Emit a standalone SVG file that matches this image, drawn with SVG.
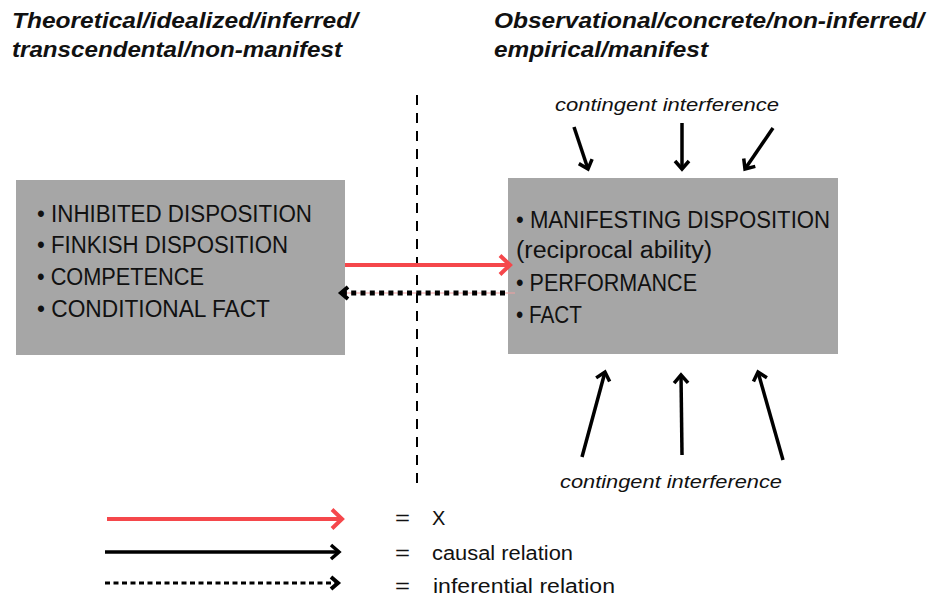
<svg xmlns="http://www.w3.org/2000/svg" width="932" height="598" viewBox="0 0 932 598">
<style>
.title{font-family:"Liberation Sans",Arial,sans-serif;font-weight:bold;font-style:italic;font-size:22px;fill:#111}
.box{fill:#a6a6a6}
.item{font-family:"Liberation Sans",Arial,sans-serif;font-size:23px;fill:#111}
.ital{font-family:"Liberation Sans",Arial,sans-serif;font-style:italic;font-size:19px;fill:#111}
.leg{font-family:"Liberation Sans",Arial,sans-serif;font-size:20px;fill:#111}
.red{stroke:#f5474b;stroke-width:4;fill:none}
.causal{stroke:#000;stroke-width:3.5;fill:none}
.dot{stroke:#000;stroke-width:5;fill:none;stroke-dasharray:5 4.3}
</style>
<defs>
<marker id="mRed" markerUnits="userSpaceOnUse" viewBox="-12 -12 14 24" refX="0" refY="0" markerWidth="14" markerHeight="24" orient="auto" overflow="visible">
<path d="M-10,-9.5 L0,0 L-10,9.5" stroke="#f5474b" stroke-width="4" fill="none"/>
</marker>
<marker id="mBlk" markerUnits="userSpaceOnUse" viewBox="-12 -10 14 20" refX="0" refY="0" markerWidth="14" markerHeight="20" orient="auto" overflow="visible">
<path d="M-8,-7 L0,0 L-8,7" stroke="#000" stroke-width="3.5" fill="none"/>
</marker>
<marker id="mDot" markerUnits="userSpaceOnUse" viewBox="-12 -10 14 20" refX="0" refY="0" markerWidth="14" markerHeight="20" orient="auto" overflow="visible">
<path d="M-7,-6 L0,0 L-7,6" stroke="#000" stroke-width="4" fill="none"/>
</marker>
</defs>

<g id="title-left">
<text class="title" x="12" y="28" textLength="346" lengthAdjust="spacingAndGlyphs">Theoretical/idealized/inferred/</text>
<text class="title" x="12" y="57" textLength="330" lengthAdjust="spacingAndGlyphs">transcendental/non-manifest</text>
</g>
<g id="title-right">
<text class="title" x="494" y="28" textLength="430" lengthAdjust="spacingAndGlyphs">Observational/concrete/non-inferred/</text>
<text class="title" x="494" y="57" textLength="214" lengthAdjust="spacingAndGlyphs">empirical/manifest</text>
</g>

<g id="divider">
<line x1="417" y1="95" x2="417" y2="485" stroke="#000" stroke-width="2" stroke-dasharray="10 8"/>
</g>

<g id="node-theoretical">
<rect class="box" x="16" y="180" width="329" height="175"/>
<text class="item" x="37" y="222" textLength="275" lengthAdjust="spacingAndGlyphs">• INHIBITED DISPOSITION</text>
<text class="item" x="37" y="253" textLength="251" lengthAdjust="spacingAndGlyphs">• FINKISH DISPOSITION</text>
<text class="item" x="37" y="285" textLength="167" lengthAdjust="spacingAndGlyphs">• COMPETENCE</text>
<text class="item" x="37" y="317" textLength="233" lengthAdjust="spacingAndGlyphs">• CONDITIONAL FACT</text>
</g>

<g id="node-observational">
<rect class="box" x="508" y="178" width="330" height="176"/>
<text class="item" x="516" y="228" textLength="314" lengthAdjust="spacingAndGlyphs">• MANIFESTING DISPOSITION</text>
<text class="item" x="516" y="258" textLength="196" lengthAdjust="spacingAndGlyphs">(reciprocal ability)</text>
<text class="item" x="516" y="291" textLength="181" lengthAdjust="spacingAndGlyphs">• PERFORMANCE</text>
<text class="item" x="516" y="323" textLength="66" lengthAdjust="spacingAndGlyphs">• FACT</text>
</g>

<g id="label-top">
<text class="ital" x="555" y="111" textLength="224" lengthAdjust="spacingAndGlyphs">contingent interference</text>
</g>
<g id="label-bottom">
<text class="ital" x="560" y="488" textLength="222" lengthAdjust="spacingAndGlyphs">contingent interference</text>
</g>

<g id="connectors">
<line x1="345" y1="265" x2="510" y2="265" class="red" marker-end="url(#mRed)"/>
<line x1="340" y1="293" x2="515" y2="293" stroke="#f2a0a0" stroke-width="1"/>
<line x1="505" y1="293" x2="341" y2="293" class="dot" marker-end="url(#mDot)"/>
<line x1="574" y1="127" x2="588" y2="169" class="causal" marker-end="url(#mBlk)"/>
<line x1="682" y1="123" x2="682" y2="169" class="causal" marker-end="url(#mBlk)"/>
<line x1="773" y1="128" x2="745" y2="169" class="causal" marker-end="url(#mBlk)"/>
<line x1="582" y1="457" x2="605" y2="372" class="causal" marker-end="url(#mBlk)"/>
<line x1="682" y1="455" x2="681" y2="375" class="causal" marker-end="url(#mBlk)"/>
<line x1="783" y1="460" x2="758" y2="372" class="causal" marker-end="url(#mBlk)"/>
</g>

<g id="legend">
<line x1="107" y1="519" x2="342" y2="519" class="red" marker-end="url(#mRed)"/>
<line x1="105" y1="552" x2="339" y2="552" class="causal" marker-end="url(#mBlk)"/>
<line x1="105" y1="583" x2="338" y2="583" class="dot" style="stroke-width:3;stroke-dasharray:5 3.5" marker-end="url(#mDot)"/>
<text class="leg" x="395" y="525" textLength="15" lengthAdjust="spacingAndGlyphs">=</text>
<text class="leg" x="432" y="525">X</text>
<text class="leg" x="395" y="560" textLength="15" lengthAdjust="spacingAndGlyphs">=</text>
<text class="leg" x="432" y="560" textLength="141" lengthAdjust="spacingAndGlyphs">causal relation</text>
<text class="leg" x="395" y="593" textLength="15" lengthAdjust="spacingAndGlyphs">=</text>
<text class="leg" x="433" y="593" textLength="182" lengthAdjust="spacingAndGlyphs">inferential relation</text>
</g>
</svg>
